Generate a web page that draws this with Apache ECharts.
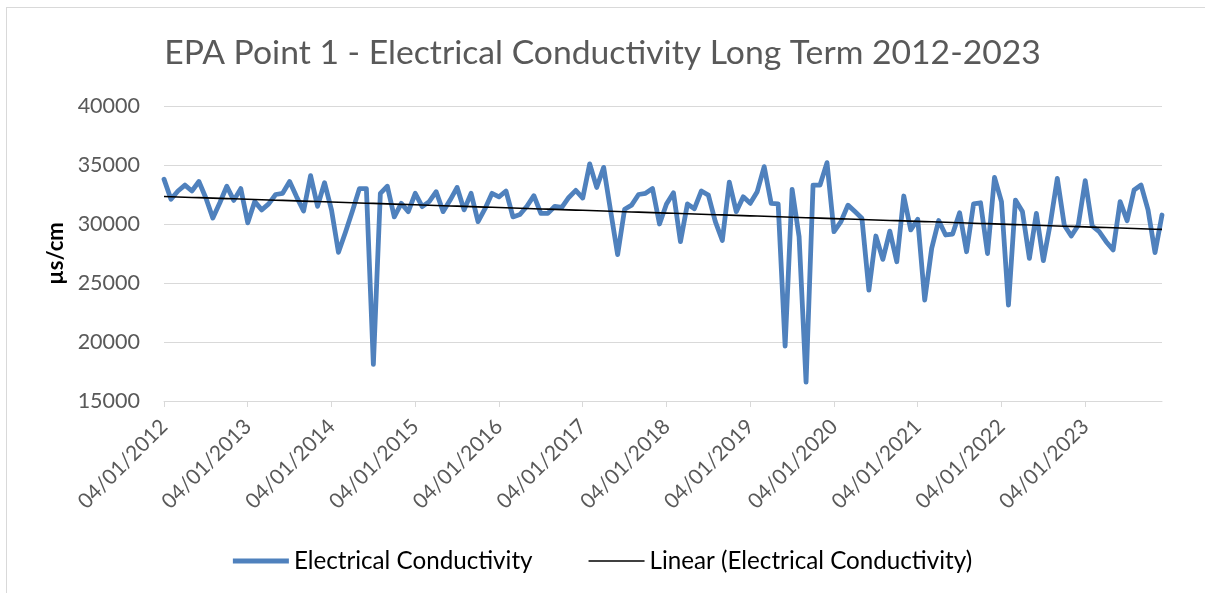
<!DOCTYPE html>
<html>
<head>
<meta charset="utf-8">
<title>EPA Point 1 - Electrical Conductivity</title>
<script src="https://cdn.jsdelivr.net/npm/echarts@6/dist/echarts.min.js"></script>
<style>
  html, body { margin: 0; padding: 0; background: #ffffff; }
  #frame {
    position: absolute; left: 6px; top: 7px; width: 1260px; height: 640px;
    border: 1px solid #d9d9d9; box-sizing: border-box;
  }
  #chart { position: absolute; left: 0; top: 0; width: 1205px; height: 593px; }
</style>
</head>
<body>
<div id="frame"></div>
<div id="chart"></div>
<script>
// Sampling years; one reading near the 4th of every month
const years = [2012, 2013, 2014, 2015, 2016, 2017, 2018, 2019, 2020, 2021, 2022, 2023];

// Monthly electrical conductivity readings (µs/cm), Jan..Dec of each year
const ec2012 = [33800, 32100, 32800, 33300, 32800, 33600, 32200, 30500, 31800, 33200, 32000, 33000];
const ec2013 = [30100, 31900, 31200, 31700, 32500, 32600, 33600, 32300, 31100, 34100, 31500, 33500];
const ec2014 = [31200, 27600, 29300, 31100, 33000, 33000, 18100, 32600, 33200, 30600, 31750, 31050];
const ec2015 = [32600, 31470, 31900, 32740, 31050, 32030, 33100, 31200, 32600, 30200, 31300, 32600];
const ec2016 = [32300, 32800, 30600, 30800, 31500, 32400, 30900, 30900, 31500, 31400, 32250, 32850];
const ec2017 = [32200, 35100, 33100, 34800, 31100, 27400, 31250, 31600, 32500, 32600, 33000, 30000];
const ec2018 = [31700, 32650, 28500, 31700, 31300, 32800, 32450, 30200, 28600, 33550, 31050, 32300];
const ec2019 = [31750, 32740, 34860, 31750, 31700, 19660, 32940, 28930, 16600, 33300, 33300, 35200];
const ec2020 = [29350, 30200, 31600, 31050, 30480, 24400, 28980, 27000, 29400, 26800, 32370, 29500];
const ec2021 = [30400, 23560, 27940, 30300, 29070, 29150, 30960, 27650, 31700, 31800, 27500, 33950];
const ec2022 = [31900, 23130, 32030, 31050, 27090, 30900, 26890, 30060, 33870, 29900, 28980, 29900];
const ec2023 = [33670, 29830, 29350, 28500, 27800, 31900, 30280, 32880, 33300, 31200, 27570, 30760];

// Y axis range and step
const yMin = 15000, yMax = 40000, yStep = 5000;

const conductivity = [].concat(ec2012, ec2013, ec2014, ec2015, ec2016, ec2017,
                               ec2018, ec2019, ec2020, ec2021, ec2022, ec2023);

// dd/mm/yyyy date labels, one per reading
const pad = n => (n < 10 ? '0' : '') + n;
const dates = [];
years.forEach(y => { for (let m = 1; m <= 12; m++) dates.push('04/' + pad(m) + '/' + y); });

// Least-squares linear trend over the reading sequence
function linearTrend(values) {
  const n = values.length;
  let sx = 0, sy = 0, sxx = 0, sxy = 0;
  values.forEach((v, i) => { sx += i; sy += v; sxx += i * i; sxy += i * v; });
  const slope = (n * sxy - sx * sy) / (n * sxx - sx * sx);
  const icpt = (sy - slope * sx) / n;
  return values.map((_, i) => +(icpt + slope * i).toFixed(1));
}
const trend = linearTrend(conductivity);

const FONT = 'Lato, "Open Sans", sans-serif';
const chart = echarts.init(document.getElementById('chart'), null, { renderer: 'canvas' });

chart.setOption({
  backgroundColor: 'transparent',
  animation: false,
  title: {
    text: 'EPA Point 1 - Electrical Conductivity Long Term 2012-2023',
    left: 'center',
    top: 31,
    textStyle: { fontFamily: FONT, fontSize: 33.7, fontWeight: 'normal', color: '#595959' }
  },
  legend: {
    bottom: 15,
    left: 'center',
    itemWidth: 56,
    itemHeight: 14,
    itemGap: 56,
    symbolKeepAspect: true,
    textStyle: { fontFamily: FONT, fontSize: 24.2, color: '#000000' },
    data: [
      { name: 'Electrical Conductivity', icon: 'path://M0 0H56V5H0Z' },
      { name: 'Linear (Electrical Conductivity)', icon: 'path://M0 0H56V1.6H0Z' }
    ]
  },
  grid: { left: 164, right: 43, top: 106, bottom: 192, containLabel: false },
  xAxis: {
    type: 'category',
    data: dates,
    boundaryGap: false,
    axisLine: { show: true, lineStyle: { color: '#d9d9d9', width: 1 } },
    axisTick: { show: true, interval: 11, length: 6, lineStyle: { color: '#d9d9d9' } },
    axisLabel: {
      interval: 11, rotate: 45, margin: 22,
      fontFamily: FONT, fontSize: 21, color: '#595959'
    },
    splitLine: { show: false }
  },
  yAxis: {
    type: 'value',
    min: yMin, max: yMax, interval: yStep,
    name: 'µs/cm',
    nameLocation: 'middle',
    nameGap: 95,
    nameRotate: 90,
    nameTextStyle: { fontFamily: FONT, fontSize: 22, fontWeight: 'bold', color: '#000000' },
    axisLine: { show: false },
    axisTick: { show: false },
    axisLabel: {
      margin: 24, fontFamily: FONT, fontSize: 21.5, color: '#595959',
      formatter: v => String(v)
    },
    splitLine: { lineStyle: { color: '#d9d9d9', width: 1 } }
  },
  series: [
    {
      name: 'Electrical Conductivity',
      type: 'line',
      data: conductivity,
      symbol: 'none',
      lineStyle: { color: '#4f81bd', width: 4.8, join: 'round', cap: 'round' },
      itemStyle: { color: '#4f81bd' },
      z: 2
    },
    {
      name: 'Linear (Electrical Conductivity)',
      type: 'line',
      data: trend,
      symbol: 'none',
      lineStyle: { color: '#000000', width: 1.6 },
      itemStyle: { color: '#000000' },
      z: 3
    }
  ]
});
</script>
</body>
</html>
